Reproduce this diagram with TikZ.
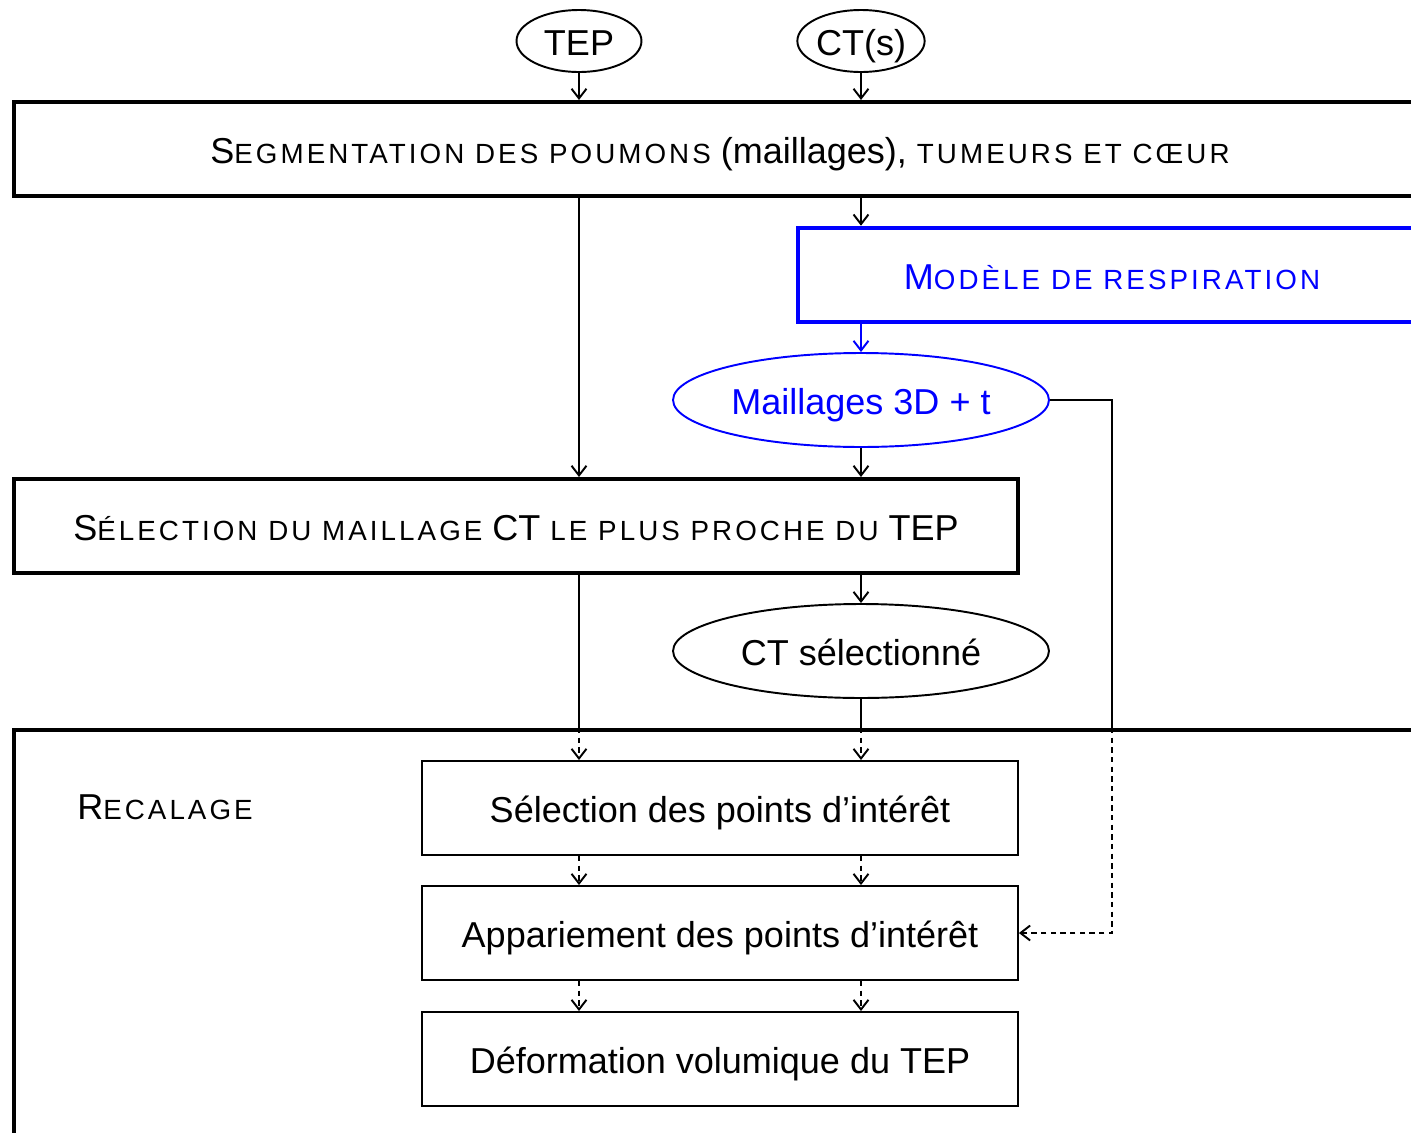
\documentclass[tikz,border=0pt]{standalone}
\usepackage{fontspec}
\setmainfont{Liberation Sans}
\newfontfamily\scfont[LetterSpace=11]{Liberation Sans}
\usepackage{tikz}
\usetikzlibrary{arrows.meta,shapes.geometric,positioning}

\newcommand\sct[1]{{\scfont\fontsize{15.8pt}{19pt}\selectfont #1}}

\begin{document}
\begin{tikzpicture}
[x=0.02cm,y=-0.02cm,
 font=\fontsize{20.5pt}{24pt}\selectfont,
 every node/.style={text height=16.5pt,text depth=0pt},
 >={Straight Barb[length=5.5pt,width=8.5pt]},
 oval/.style={ellipse,draw,line width=1.1pt,inner sep=0pt,minimum width=7.52cm,minimum height=1.88cm},
 small oval/.style={oval,minimum width=2.5cm,minimum height=1.24cm},
 bigbox/.style={rectangle,draw,line width=2.3pt,inner sep=0pt,minimum height=1.88cm},
 stepbox/.style={rectangle,draw,line width=1.1pt,inner sep=0pt,minimum width=11.92cm,minimum height=1.88cm},
 link/.style={line width=1.1pt},
 dlink/.style={link,dash pattern=on 3pt off 2.5pt}]
\useasboundingbox (0,0) rectangle (1411,1133);
\clip (0,0) rectangle (1411,1133);

\node[small oval] (tep) at (579,41) {TEP};
\node[small oval] (ct) at (861,41) {CT(s)};

\node[bigbox,minimum width=28.24cm] (seg) at (720,149)
{S\sct{EGMENTATION DES POUMONS} (maillages), \sct{TUMEURS ET CŒUR}};
\node[bigbox,draw=blue,text=blue,line width=2.6pt,minimum width=12.56cm] (modele) at (1112,275)
{M\sct{ODÈLE DE RESPIRATION}};
\node[oval,draw=blue,text=blue] (maillages) at (861,400) {Maillages 3D + t};
\node[bigbox,minimum width=20.08cm] (selmail) at (516,526)
{S\sct{ÉLECTION DU MAILLAGE} CT \sct{LE PLUS PROCHE DU} TEP};
\node[oval] (ctsel) at (861,651) {CT sélectionné};

\node[bigbox,minimum width=28.24cm,minimum height=10.4cm] (recal) at (720,990) {};
\node (recaltitle) at (165,805) {R\sct{ECALAGE}};
\node[stepbox] (selpts) at (720,808) {Sélection des points d’intérêt};
\node[stepbox] (appar) at (720,933) {Appariement des points d’intérêt};
\node[stepbox] (deform) at (720,1059) {Déformation volumique du TEP};

\coordinate (bend) at (1112,400);

\draw [link,->] (tep.south) -- (tep.south |- seg.north);
\draw [link,->] (ct.south) -- (ct.south |- seg.north);
\draw [link,->] (seg.south -| ct) -- (modele.north -| ct);
\draw [link,->,blue] (modele.south -| maillages) -- (maillages.north);
\draw [link,->] (seg.south -| tep) -- (selmail.north -| tep);
\draw [link,->] (maillages.south) -- (selmail.north -| maillages);
\draw [link,->] (selmail.south -| ctsel) -- (ctsel.north);
\draw [link] (selmail.south -| tep) -- (recal.north -| tep);
\draw [link] (ctsel.south) -- (recal.north -| ctsel);
\draw [dlink,->] (recal.north -| tep) -- (selpts.north -| tep);
\draw [dlink,->] (recal.north -| ctsel) -- (selpts.north -| ctsel);
\draw [dlink,->] (selpts.south -| tep) -- (appar.north -| tep);
\draw [dlink,->] (selpts.south -| ctsel) -- (appar.north -| ctsel);
\draw [dlink,->] (appar.south -| tep) -- (deform.north -| tep);
\draw [dlink,->] (appar.south -| ctsel) -- (deform.north -| ctsel);
\draw [link] (maillages.east) -- (bend) -- (bend |- recal.north);
\draw [dlink,->] (bend |- recal.north) |- (appar.east);
\end{tikzpicture}
\end{document}
